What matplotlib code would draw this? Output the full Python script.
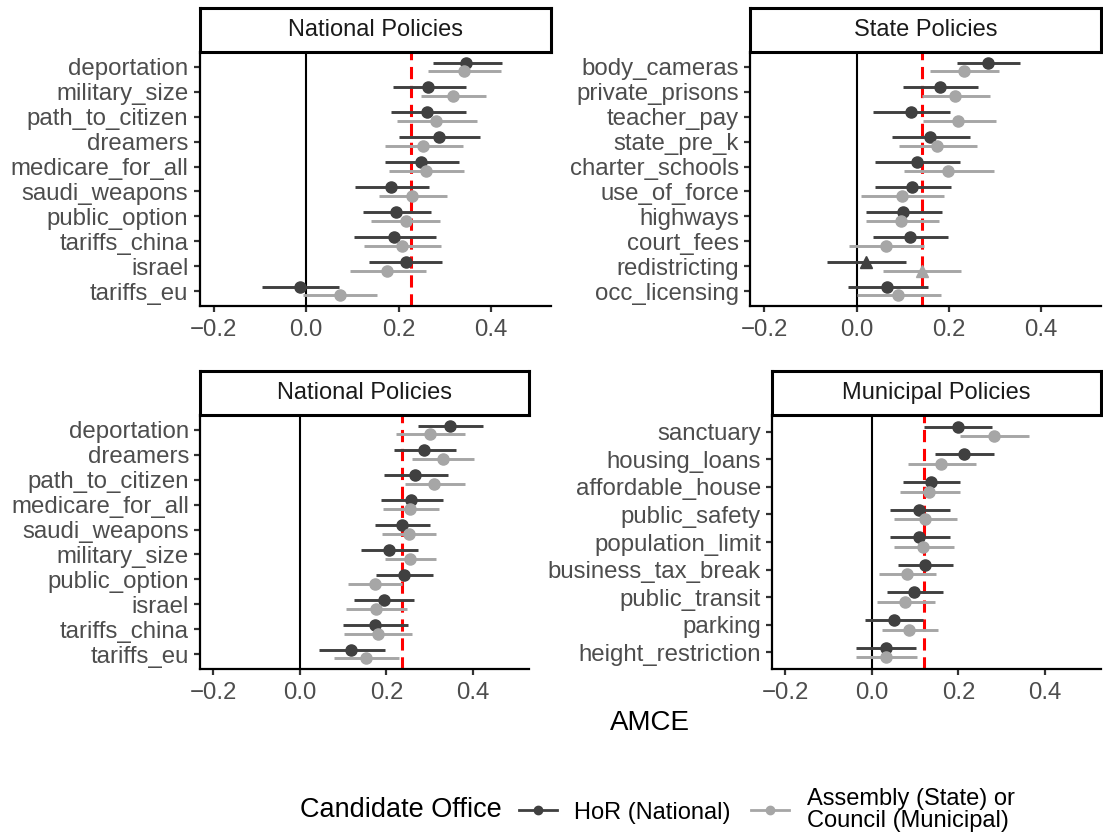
import matplotlib.pyplot as plt
from matplotlib.lines import Line2D
import numpy as np

plt.rcParams['font.family'] = ['Liberation Sans', 'DejaVu Sans']

DARK = '#404040'
LIGHT = '#A6A6A6'

# --- National Policies (top) ---
nat_a_policies = ['deportation', 'military_size', 'path_to_citizen', 'dreamers', 'medicare_for_all',
                  'saudi_weapons', 'public_option', 'tariffs_china', 'israel', 'tariffs_eu']
nat_a_hor = [0.346, 0.264, 0.262, 0.288, 0.248, 0.184, 0.195, 0.190, 0.215, -0.013]
nat_a_hor_lo = [0.274, 0.187, 0.183, 0.202, 0.170, 0.105, 0.122, 0.103, 0.137, -0.095]
nat_a_hor_hi = [0.423, 0.345, 0.345, 0.376, 0.331, 0.266, 0.270, 0.280, 0.294, 0.072]
nat_a_asm = [0.341, 0.318, 0.282, 0.253, 0.260, 0.229, 0.215, 0.207, 0.176, 0.073]
nat_a_asm_lo = [0.263, 0.248, 0.196, 0.170, 0.179, 0.157, 0.141, 0.126, 0.094, -0.006]
nat_a_asm_hi = [0.421, 0.389, 0.370, 0.339, 0.342, 0.304, 0.290, 0.292, 0.259, 0.154]
nat_a_tri = [False] * 10
nat_a_mean = 0.227

# --- State Policies ---
state_policies = ['body_cameras', 'private_prisons', 'teacher_pay', 'state_pre_k', 'charter_schools',
                  'use_of_force', 'highways', 'court_fees', 'redistricting', 'occ_licensing']
state_hor = [0.285, 0.180, 0.118, 0.160, 0.131, 0.121, 0.101, 0.115, 0.020, 0.066]
state_hor_lo = [0.218, 0.100, 0.036, 0.077, 0.040, 0.041, 0.020, 0.036, -0.065, -0.018]
state_hor_hi = [0.355, 0.263, 0.202, 0.245, 0.224, 0.204, 0.185, 0.198, 0.108, 0.155]
state_asm = [0.233, 0.214, 0.220, 0.175, 0.199, 0.098, 0.097, 0.063, 0.141, 0.090]
state_asm_lo = [0.160, 0.141, 0.143, 0.092, 0.102, 0.010, 0.020, -0.017, 0.058, 0.001]
state_asm_hi = [0.308, 0.290, 0.302, 0.261, 0.298, 0.189, 0.178, 0.147, 0.227, 0.183]
state_tri = [False] * 8 + [True, False]
state_mean = 0.1415

# --- National Policies (bottom) ---
nat_b_policies = ['deportation', 'dreamers', 'path_to_citizen', 'medicare_for_all', 'saudi_weapons',
                  'military_size', 'public_option', 'israel', 'tariffs_china', 'tariffs_eu']
nat_b_hor = [0.347, 0.288, 0.267, 0.258, 0.236, 0.206, 0.240, 0.194, 0.174, 0.119]
nat_b_hor_lo = [0.273, 0.218, 0.194, 0.188, 0.174, 0.141, 0.176, 0.125, 0.100, 0.044]
nat_b_hor_hi = [0.423, 0.361, 0.342, 0.332, 0.302, 0.273, 0.307, 0.265, 0.251, 0.196]
nat_b_asm = [0.301, 0.330, 0.311, 0.255, 0.252, 0.254, 0.173, 0.176, 0.180, 0.153]
nat_b_asm_lo = [0.223, 0.260, 0.243, 0.192, 0.191, 0.196, 0.111, 0.107, 0.102, 0.078]
nat_b_asm_hi = [0.381, 0.402, 0.383, 0.321, 0.315, 0.314, 0.236, 0.247, 0.259, 0.230]
nat_b_tri = [False] * 10
nat_b_mean = 0.2357

# --- Municipal Policies ---
mun_policies = ['sanctuary', 'housing_loans', 'affordable_house', 'public_safety', 'population_limit',
                'business_tax_break', 'public_transit', 'parking', 'height_restriction']
mun_hor = [0.200, 0.212, 0.136, 0.110, 0.110, 0.123, 0.098, 0.052, 0.032]
mun_hor_lo = [0.121, 0.145, 0.071, 0.041, 0.041, 0.060, 0.036, -0.016, -0.036]
mun_hor_hi = [0.278, 0.282, 0.203, 0.180, 0.180, 0.188, 0.164, 0.119, 0.102]
mun_asm = [0.282, 0.161, 0.132, 0.123, 0.118, 0.082, 0.077, 0.087, 0.032]
mun_asm_lo = [0.203, 0.084, 0.064, 0.051, 0.051, 0.017, 0.011, 0.023, -0.036]
mun_asm_hi = [0.363, 0.241, 0.203, 0.197, 0.190, 0.149, 0.146, 0.153, 0.105]
mun_tri = [False] * 9
mun_mean = 0.1207

W, H = 1103, 839
fig = plt.figure(figsize=(W / 100, H / 100), dpi=100)


def px_rect(x0, x1, y0, y1):
    return [x0 / W, 1 - y1 / H, (x1 - x0) / W, (y1 - y0) / H]


def draw_panel(box, title, policies, hor, hor_lo, hor_hi, asm, asm_lo, asm_hi, tri, mean):
    x0, x1, y0, y1 = box
    ax = fig.add_axes(px_rect(x0, x1, y0, y1))
    n = len(policies)
    y = np.arange(n)[::-1].astype(float)
    ax.axvline(0, color='black', lw=1.5, zorder=1)
    ax.axvline(mean, color='red', lw=2.2, ls=(0, (4, 2.2)), zorder=1)
    for vals, lo, hi, col, off in [(hor, hor_lo, hor_hi, DARK, 0.175), (asm, asm_lo, asm_hi, LIGHT, -0.175)]:
        yy = y + off
        ax.hlines(yy, lo, hi, color=col, lw=2.1, zorder=2)
        vals = np.array(vals)
        t = np.array(tri)
        ax.plot(vals[~t], yy[~t], 'o', color=col, ms=8, zorder=3)
        if t.any():
            ax.plot(vals[t], yy[t], '^', color=col, ms=9, zorder=3)
    ax.set_xlim(-0.231, 0.53)
    ax.set_ylim(-0.6, n - 0.4)
    ax.set_yticks(y)
    ax.set_yticklabels(policies)
    ax.set_xticks([-0.2, 0.0, 0.2, 0.4])
    ax.set_xticklabels(['\u22120.2', '0.0', '0.2', '0.4'])
    for s in ['top', 'right']:
        ax.spines[s].set_visible(False)
    for s in ['left', 'bottom']:
        ax.spines[s].set_linewidth(1.6)
    ax.tick_params(axis='both', labelsize=17.3, labelcolor='#4D4D4D', color='#333333',
                   length=4.5, width=1.6, pad=3.5)
    ax.tick_params(axis='x', pad=5)
    # strip
    sx = fig.add_axes(px_rect(x0, x1, y0 - 44, y0))
    sx.set_xticks([])
    sx.set_yticks([])
    for s in sx.spines.values():
        s.set_linewidth(2.2)
    sx.text(0.5, 0.5, title, ha='center', va='center', fontsize=17, color='#1A1A1A',
            transform=sx.transAxes)
    return ax


draw_panel((199.5, 551, 52, 306), 'National Policies', nat_a_policies, nat_a_hor, nat_a_hor_lo, nat_a_hor_hi,
           nat_a_asm, nat_a_asm_lo, nat_a_asm_hi, nat_a_tri, nat_a_mean)
draw_panel((750, 1101, 52, 306), 'State Policies', state_policies, state_hor, state_hor_lo, state_hor_hi,
           state_asm, state_asm_lo, state_asm_hi, state_tri, state_mean)
draw_panel((200, 529, 415, 669), 'National Policies', nat_b_policies, nat_b_hor, nat_b_hor_lo, nat_b_hor_hi,
           nat_b_asm, nat_b_asm_lo, nat_b_asm_hi, nat_b_tri, nat_b_mean)
draw_panel((772, 1101, 415, 669), 'Municipal Policies', mun_policies, mun_hor, mun_hor_lo, mun_hor_hi,
           mun_asm, mun_asm_lo, mun_asm_hi, mun_tri, mun_mean)

fig.text(650 / W, 1 - 723 / H, 'AMCE', ha='center', va='center', fontsize=20)

# legend
fig.text(300 / W, 1 - 810 / H, 'Candidate Office', ha='left', va='center', fontsize=19.5)
handles = [Line2D([], [], color=DARK, lw=2, marker='o', ms=6),
           Line2D([], [], color=LIGHT, lw=2, marker='o', ms=6)]
leg = fig.legend(handles, ['HoR (National)', 'Assembly (State) or\nCouncil (Municipal)'],
                 loc='center left', bbox_to_anchor=(519 / W, 1 - 810 / H), ncol=2, frameon=False,
                 fontsize=17, borderpad=0, borderaxespad=0, handlelength=1.6, handletextpad=0.75,
                 columnspacing=0.85)
for t in leg.get_texts():
    t.set_linespacing(1.0)

fig.savefig('out.png', dpi=100)
